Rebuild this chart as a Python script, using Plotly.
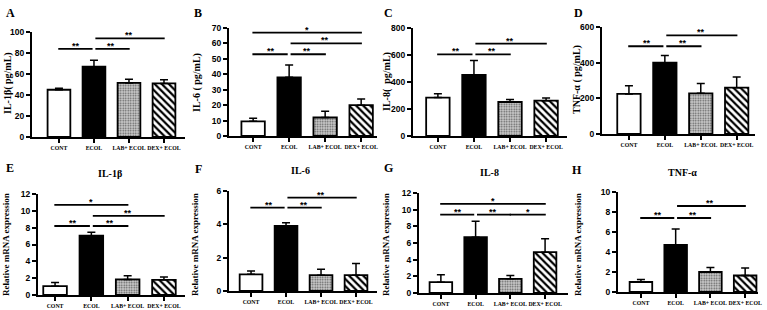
import plotly.graph_objects as go

W, H = 767, 310

categories = ["CONT", "ECOL", "LAB+ ECOL", "DEX+ ECOL"]

# ---- data ----
il1b_protein = [45, 67, 51.5, 51]
il1b_protein_sd = [1.5, 6, 3.5, 3.5]
il6_protein = [9.5, 38, 12, 20]
il6_protein_sd = [2, 8, 4, 4]
il8_protein = [285, 452, 252, 262]
il8_protein_sd = [28, 108, 18, 20]
tnfa_protein = [225, 400, 228, 260]
tnfa_protein_sd = [45, 40, 55, 60]

il1b_mrna = [1.05, 7.05, 1.85, 1.8]
il1b_mrna_sd = [0.45, 0.4, 0.45, 0.35]
il6_mrna = [1.0, 3.9, 0.95, 0.95]
il6_mrna_sd = [0.2, 0.2, 0.35, 0.7]
il8_mrna = [1.3, 6.7, 1.7, 4.9]
il8_mrna_sd = [0.9, 1.9, 0.4, 1.6]
tnfa_mrna = [1.0, 4.7, 2.0, 1.65]
tnfa_mrna_sd = [0.25, 1.6, 0.45, 0.75]

# significance brackets: (group i, group j, y, label)
sig_A = [(0, 1, 84, "**"), (1, 2, 84, "**"), (1, 3, 94, "**")]
sig_B = [(0, 1, 53, "**"), (1, 2, 53, "**"), (1, 3, 60, "**"), (0, 3, 67, "*")]
sig_C = [(0, 1, 605, "**"), (1, 2, 605, "**"), (1, 3, 684, "**")]
sig_D = [(0, 1, 492, "**"), (1, 2, 492, "**"), (1, 3, 553, "**")]
sig_E = [(0, 1, 8.2, "**"), (1, 2, 8.2, "**"), (1, 3, 9.4, "**"), (0, 2, 10.7, "*"), (0, 3, 12.1, "*")]
sig_F = [(0, 1, 5.0, "**"), (1, 2, 5.0, "**"), (1, 3, 5.6, "**")]
sig_G = [(0, 1, 9.4, "**"), (1, 2, 9.4, "**"), (2, 3, 9.4, "*"), (0, 3, 10.7, "*")]
sig_H = [(0, 1, 7.4, "**"), (1, 2, 7.4, "**"), (1, 3, 8.6, "**")]

# ---- layout of panels (pixel boxes) ----
panels = [
    dict(letter="A", vals=il1b_protein, sd=il1b_protein_sd, sig=sig_A, ymax=100, dtick=20,
         ytitle="IL-1β( pg/mL)", title=None, px=(32, 185), py=(32, 137), xr=(-0.77, 3.6),
         tx=8, ty=83, lx=10, ly=13),
    dict(letter="B", vals=il6_protein, sd=il6_protein_sd, sig=sig_B, ymax=70, dtick=10,
         ytitle="IL-6 ( pg/mL)", title=None, px=(229, 377), py=(28, 136), xr=(-0.67, 3.44),
         tx=197, ty=83, lx=198, ly=13),
    dict(letter="C", vals=il8_protein, sd=il8_protein_sd, sig=sig_C, ymax=800, dtick=200,
         ytitle="IL-8(  pg/mL)", title=None, px=(413, 567), py=(28, 136), xr=(-0.69, 3.58),
         tx=387, ty=81, lx=388, ly=13),
    dict(letter="D", vals=tnfa_protein, sd=tnfa_protein_sd, sig=sig_D, ymax=600, dtick=200,
         ytitle="TNF-α ( pg/mL)", title=None, px=(602, 755), py=(27, 134), xr=(-0.75, 3.51),
         tx=577, ty=80, lx=578, ly=13),
    dict(letter="E", vals=il1b_mrna, sd=il1b_mrna_sd, sig=sig_E, ymax=12, dtick=2,
         ytitle="Relative mRNA expression", title="IL-1β", px=(38, 185), py=(194, 295),
         xr=(-0.47, 3.58), tx=6, ty=245, lx=10, ly=168, titx=110, tity=173),
    dict(letter="F", vals=il6_mrna, sd=il6_mrna_sd, sig=sig_F, ymax=6, dtick=2,
         ytitle="Relative mRNA expression", title="IL-6", px=(229, 377), py=(191, 291),
         xr=(-0.63, 3.6), tx=195, ty=245, lx=198, ly=169, titx=300, tity=170),
    dict(letter="G", vals=il8_mrna, sd=il8_mrna_sd, sig=sig_G, ymax=12, dtick=2,
         ytitle="Relative mRNA expression", title="IL-8", px=(419, 568), py=(193, 293),
         xr=(-0.63, 3.66), tx=386, ty=245, lx=388, ly=168, titx=490, tity=172),
    dict(letter="H", vals=tnfa_mrna, sd=tnfa_mrna_sd, sig=sig_H, ymax=10, dtick=2,
         ytitle="Relative mRNA expression", title="TNF-α", px=(618, 758), py=(192, 292),
         xr=(-0.66, 3.37), tx=578, ty=245, lx=577, ly=170, titx=682, tity=172),
]

SERIF = "Liberation Serif"
SANS = "Liberation Sans"

# bar styles per group
group_styles = [
    dict(color="white", pattern=None),
    dict(color="black", pattern=None),
    dict(color="#c4c4c4", pattern=dict(shape=".", bgcolor="#cdcdcd", fgcolor="#5a5a5a",
                                      size=2.5, solidity=0.35, fillmode="replace")),
    dict(color="white", pattern=dict(shape="\\", bgcolor="white", fgcolor="black",
                                     size=5, solidity=0.45, fillmode="replace")),
]

fig = go.Figure()
layout = dict(width=W, height=H, margin=dict(l=0, r=0, t=0, b=0),
              paper_bgcolor="white", plot_bgcolor="white", showlegend=False,
              barmode="overlay")
shapes = []
annotations = []

for k, p in enumerate(panels, start=1):
    xa = f"x{k}" if k > 1 else "x"
    ya = f"y{k}" if k > 1 else "y"
    for g, cat in enumerate(categories):
        st = group_styles[g]
        marker = dict(color=st["color"], line=dict(color="black", width=1.8))
        if st["pattern"]:
            marker["pattern"] = st["pattern"]
        fig.add_trace(go.Bar(
            x=[g], y=[p["vals"][g]], xaxis=xa, yaxis=ya, width=0.65, name=cat,
            marker=marker,
            error_y=dict(type="data", symmetric=False, array=[p["sd"][g]],
                         arrayminus=[0], color="black", thickness=1.5, width=4),
            hoverinfo="skip",
        ))
    xkey = f"xaxis{k}" if k > 1 else "xaxis"
    ykey = f"yaxis{k}" if k > 1 else "yaxis"
    layout[xkey] = dict(
        domain=[p["px"][0] / W, p["px"][1] / W], anchor=ya, range=list(p["xr"]),
        tickvals=list(range(len(categories))), ticktext=categories, tickangle=0,
        showline=True, linecolor="black", linewidth=2, ticks="outside", ticklen=4,
        tickwidth=1.5, tickcolor="black", showgrid=False, zeroline=False,
        tickfont=dict(family=SERIF, size=5.8, color="black", weight="bold"),
        fixedrange=True, automargin=False,
    )
    layout[ykey] = dict(
        domain=[1 - p["py"][1] / H, 1 - p["py"][0] / H], anchor=xa,
        range=[0, p["ymax"]], dtick=p["dtick"], tick0=0,
        showline=True, linecolor="black", linewidth=2, ticks="outside", ticklen=4,
        tickwidth=1.5, tickcolor="black", showgrid=False, zeroline=False,
        tickfont=dict(family=SANS, size=8.5, color="black", weight="bold"),
        fixedrange=True, automargin=False,
    )
    annotations.append(dict(
        text=p["ytitle"], x=p["tx"] / W, y=1 - p["ty"] / H, xref="paper", yref="paper",
        xanchor="center", yanchor="middle", textangle=-90, showarrow=False,
        font=dict(family=SERIF, size=10 if k <= 4 else 9, color="black", weight="bold"),
    ))
    annotations.append(dict(
        text=p["letter"], x=p["lx"] / W, y=1 - p["ly"] / H, xref="paper", yref="paper",
        xanchor="center", yanchor="middle", showarrow=False,
        font=dict(family=SERIF, size=12, color="black", weight="bold"),
    ))
    if p["title"]:
        annotations.append(dict(
            text=p["title"], x=p["titx"] / W, y=1 - p["tity"] / H, xref="paper", yref="paper",
            xanchor="center", yanchor="middle", showarrow=False,
            font=dict(family=SERIF, size=10, color="black", weight="bold"),
        ))
    for (i, j, yv, lab) in p["sig"]:
        shapes.append(dict(type="line", xref=xa, yref=ya, x0=i - 0.02 + 0.06 * (i == 1),
                           x1=j + 0.02 - 0.06 * (j == 1), y0=yv, y1=yv,
                           line=dict(color="black", width=1.8)))
        annotations.append(dict(
            text=lab, x=(i + j) / 2, y=yv, xref=xa, yref=ya, xanchor="center",
            yanchor="bottom", yshift=-4, showarrow=False,
            font=dict(family=SANS, size=9, color="black", weight="bold"),
        ))

layout["shapes"] = shapes
layout["annotations"] = annotations
fig.update_layout(**layout)
fig.write_html("out.html")
